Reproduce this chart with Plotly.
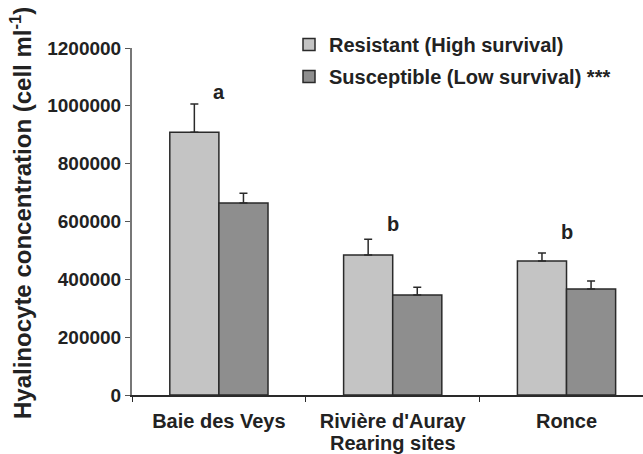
import plotly.graph_objects as go

sites = ["Baie des Veys", "Rivière d'Auray", "Ronce"]
resistant = [909000, 484000, 463000]
resistant_err = [97000, 55000, 28000]
susceptible = [664000, 346000, 367000]
susceptible_err = [34000, 27000, 27000]
letters = ["a", "b", "b"]
letter_y = [1048000, 591000, 564000]
y_ticks = [0, 200000, 400000, 600000, 800000, 1000000, 1200000]

FONT = "Liberation Sans, Arial, sans-serif"
W, H = 643, 454
ML, MR, MT, MB = 132, 0, 48, 59
PW, PH = W - ML - MR, H - MT - MB

fig = go.Figure()
fig.add_trace(go.Bar(
    x=sites, y=resistant, name="<b>Resistant (High survival)</b>",
    legendgroup="r",
    marker=dict(color="#c4c4c4", line=dict(color="#2a2a2a", width=1.5)),
    error_y=dict(type="data", array=resistant_err, arrayminus=[0] * 3, symmetric=False,
                 color="#2a2a2a", thickness=1.5, width=4),
))
fig.add_trace(go.Bar(
    x=sites, y=susceptible, name="<b>Susceptible (Low survival) ***</b>",
    legendgroup="s",
    marker=dict(color="#8e8e8e", line=dict(color="#2a2a2a", width=1.5)),
    error_y=dict(type="data", array=susceptible_err, arrayminus=[0] * 3, symmetric=False,
                 color="#2a2a2a", thickness=1.5, width=4),
))

annotations = []
for s, l, ly in zip(sites, letters, letter_y):
    annotations.append(dict(x=s, y=ly, text="<b>%s</b>" % l, showarrow=False,
                            font=dict(family=FONT, size=20, color="#222"), yanchor="middle"))

annotations.append(dict(xref="paper", yref="paper", x=(21 - ML) / PW, y=(H - MB - 213) / PH,
                        xanchor="center", yanchor="middle",
                        text="<b>Hyalinocyte concentration (cell ml<sup>-1</sup>)</b>",
                        textangle=-90, showarrow=False,
                        font=dict(family=FONT, size=24, color="#222")))
annotations.append(dict(x=sites[1], y=(H - MB - 443) / PH, yref="paper", text="<b>Rearing sites</b>",
                        showarrow=False, yanchor="middle",
                        font=dict(family=FONT, size=20, color="#222")))

fig.update_layout(
    width=W, height=H,
    margin=dict(l=ML, r=MR, t=MT, b=MB, autoexpand=False),
    paper_bgcolor="white", plot_bgcolor="white",
    barmode="group", bargap=0.435, bargroupgap=0,
    font=dict(family=FONT, size=19, color="#222"),
    showlegend=True,
    legend=dict(x=(289 - ML) / PW, y=(H - MB - 25) / PH,
                xanchor="left", yanchor="top", traceorder="grouped", tracegroupgap=3,
                font=dict(family=FONT, size=20, color="#222"), bgcolor="rgba(0,0,0,0)",
                itemwidth=30),
    annotations=annotations,
    xaxis=dict(range=[-0.5, 2.44], showline=True, linecolor="#2a2a2a", linewidth=1.5,
               ticks="outside", tickson="boundaries", ticklen=5, tickcolor="#2a2a2a",
               ticklabelstandoff=7,
               tickfont=dict(family=FONT, size=20, color="#222"),
               tickprefix="<b>", ticksuffix="</b>", showgrid=False, zeroline=False),
    yaxis=dict(range=[0, 1200000], tickvals=y_ticks, ticktext=["<b>%d</b>" % v for v in y_ticks],
               showline=True, linecolor="#777", linewidth=2,
               ticks="outside", ticklen=5, tickcolor="#555",
               tickfont=dict(family=FONT, size=19, color="#222"),
               showgrid=False, zeroline=False),
)

fig.write_html("out.html", config={"displayModeBar": False},
               post_script="document.body.style.margin='0';document.body.style.overflow='hidden';")
